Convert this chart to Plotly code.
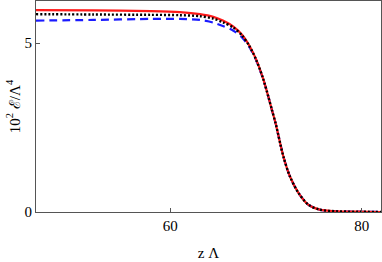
import plotly.graph_objects as go

# Data
z_red = [46, 52, 58, 61.0, 63.1, 64.5, 65.5, 66.6, 67.5, 68.3, 69.0, 69.7, 70.25, 70.6, 71.0, 71.8, 72.5, 73.4, 74.4, 75.6, 77.4, 79.5, 82]
e_red = [5.98, 5.97, 5.95, 5.92, 5.86, 5.78, 5.67, 5.49, 5.25, 4.91, 4.5, 3.95, 3.41, 3.04, 2.63, 1.66, 1.05, 0.56, 0.22, 0.07, 0.02, 0.01, 0.0]

z_black = [46, 52, 58, 61.0, 63.1, 64.5, 65.5, 66.6, 67.5, 68.3, 69.0, 69.7, 70.25, 70.6, 71.0, 71.8, 72.5, 73.4, 74.4, 75.6, 77.4, 79.5, 82]
e_black = [5.86, 5.85, 5.84, 5.83, 5.8, 5.73, 5.62, 5.46, 5.23, 4.9, 4.49, 3.95, 3.41, 3.04, 2.63, 1.66, 1.05, 0.56, 0.22, 0.07, 0.02, 0.01, 0.0]

z_blue = [46, 52, 58, 61.0, 63.1, 64.5, 65.5, 66.6, 67.5, 68.3, 69.0, 69.7, 70.25, 70.6, 71.0, 71.8, 72.5, 73.4, 74.4, 75.6, 77.4, 79.5, 82]
e_blue = [5.67, 5.69, 5.72, 5.72, 5.69, 5.61, 5.51, 5.37, 5.17, 4.87, 4.48, 3.94, 3.41, 3.04, 2.63, 1.66, 1.05, 0.56, 0.22, 0.07, 0.02, 0.01, 0.0]

x_ticks = [60, 80]
y_ticks = [0, 5]

font = dict(family="Liberation Serif, Times New Roman, serif", size=15, color="black")

fig = go.Figure()
fig.add_trace(go.Scatter(x=z_blue, y=e_blue, mode="lines",
                         line=dict(color="#1a1aff", width=2.2, dash="8px,5px", shape="spline", smoothing=0.8)))
fig.add_trace(go.Scatter(x=z_red, y=e_red, mode="lines",
                         line=dict(color="#ff1a1a", width=2.2, shape="spline", smoothing=0.8)))
fig.add_trace(go.Scatter(x=z_black, y=e_black, mode="lines",
                         line=dict(color="black", width=2.4, dash="2px,2px", shape="spline", smoothing=0.8)))

axis_common = dict(showline=True, linecolor="#555555", linewidth=1.2, mirror=True,
                   ticks="inside", ticklen=4, tickcolor="#555555", showgrid=False,
                   zeroline=False, tickfont=font, automargin=False)

fig.update_layout(
    width=382, height=262,
    margin=dict(l=36, r=1, t=1, b=50),
    paper_bgcolor="white", plot_bgcolor="white",
    showlegend=False,
    font=font,
    xaxis=dict(range=[46, 82], tickvals=x_ticks, ticktext=[str(v) for v in x_ticks],
               title=dict(text="z Λ", font=font, standoff=14), **axis_common),
    yaxis=dict(range=[0, 6.25], tickvals=y_ticks, ticktext=[str(v) for v in y_ticks],
               title=dict(text="10<sup>2</sup> ℰ/Λ<sup>4</sup>", font=font, standoff=0), **axis_common),
)

fig.write_html("out.html", config={"displayModeBar": False},
               post_script="document.body.style.margin='0';document.body.style.padding='0';")
